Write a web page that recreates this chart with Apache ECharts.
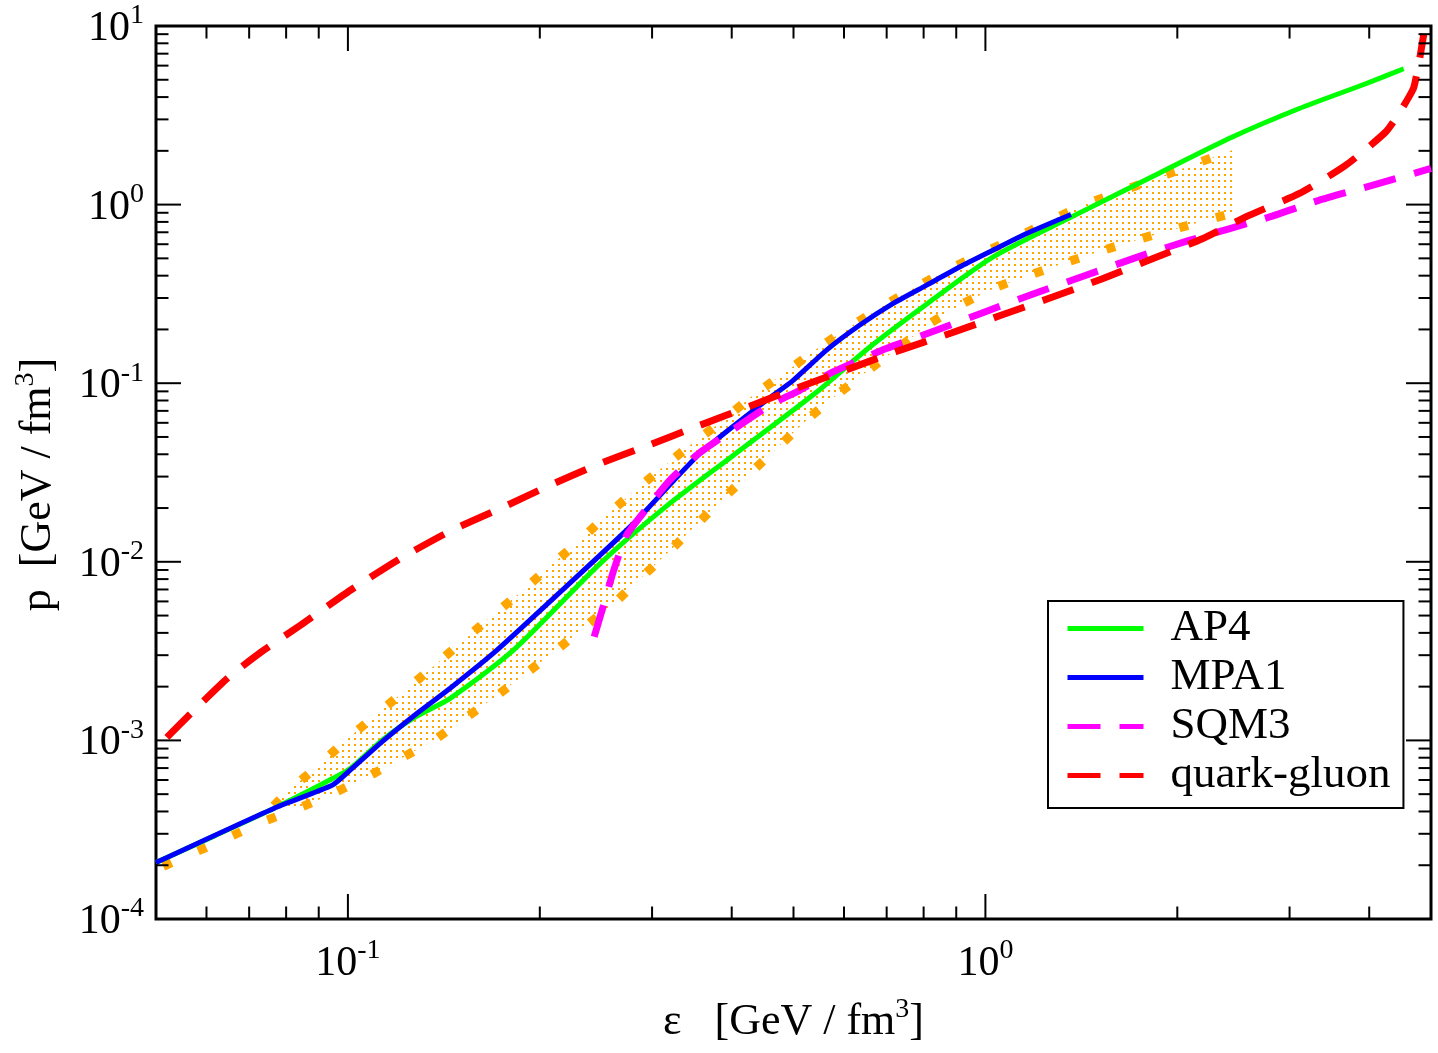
<!DOCTYPE html>
<html><head><meta charset="utf-8">
<script src="https://cdn.jsdelivr.net/npm/echarts@6/dist/echarts.min.js"></script>
<style>html,body{margin:0;padding:0;background:#fff;}#c{width:1438px;height:1053px;}</style>
</head><body><div id="c"></div>
<script>
// ---------- data (energy density eps [GeV/fm^3], pressure p [GeV/fm^3]) ----------
const ap4 = [
  [0.05, 2.07e-4], [0.062, 2.94e-4], [0.0765, 4.16e-4], [0.0843, 4.94e-4], [0.0946, 6.12e-4],
  [0.1009, 6.97e-4], [0.1138, 1.02e-3], [0.1284, 1.37e-3], [0.1447, 1.72e-3], [0.1818, 3.2e-3],
  [0.2486, 9.77e-3], [0.316, 0.0205], [0.4017, 0.0393], [0.54, 0.0875],
  [0.658, 0.159], [0.8075, 0.276], [1.027, 0.508], [1.37, 0.859], [1.873, 1.50],
  [2.44, 2.39], [3.10, 3.44], [3.95, 4.75], [4.53, 5.76]
];
const mpa1 = [
  [0.05, 2.07e-4], [0.0765, 4.16e-4], [0.0946, 5.62e-4], [0.1009, 6.83e-4], [0.1138, 1.0e-3],
  [0.1284, 1.42e-3], [0.1447, 1.96e-3], [0.1713, 3.2e-3], [0.2191, 7.17e-3], [0.2804, 0.01636],
  [0.3566, 0.0404], [0.4534, 0.0802], [0.4994, 0.1038], [0.5628, 0.1528], [0.6346, 0.211],
  [0.7157, 0.279], [0.8075, 0.353], [0.9106, 0.447], [1.027, 0.555], [1.158, 0.687], [1.362, 0.881]
];
const sqm3 = [
  [0.2434, 3.8e-3], [0.2515, 5.64e-3], [0.2612, 8.97e-3], [0.2737, 0.01409], [0.2942, 0.01986],
  [0.3197, 0.0286], [0.3523, 0.0395], [0.3902, 0.0511], [0.4589, 0.0752], [0.5113, 0.0912],
  [0.5767, 0.1156], [0.699, 0.1562], [0.8371, 0.1977], [1.0025, 0.2523], [1.2, 0.32],
  [1.438, 0.402], [1.722, 0.505], [2.087, 0.63], [2.785, 0.851], [3.334, 1.056],
  [4.043, 1.281], [5.0, 1.594]
];
const quarkGluon = [
  [0.052, 1.04e-3], [0.0567, 1.416e-3], [0.0651, 2.27e-3], [0.0738, 3.2e-3], [0.0843, 4.42e-3],
  [0.1009, 6.93e-3], [0.1208, 0.01043], [0.1456, 0.01503], [0.1733, 0.01986], [0.2075, 0.02684],
  [0.2486, 0.0355], [0.2977, 0.0453], [0.3566, 0.0581], [0.4269, 0.0743], [0.5113, 0.0952],
  [0.6124, 0.1207], [0.7335, 0.1528], [0.8839, 0.191], [1.058, 0.24], [1.275, 0.3036],
  [1.526, 0.3846], [1.828, 0.4977], [2.189, 0.644], [2.592, 0.87], [3.103, 1.151],
  [3.672, 1.657], [4.243, 2.546], [4.451, 3.227], [4.615, 3.997], [4.70, 4.545],
  [4.784, 6.14], [4.872, 9.04]
];
const bandUpper = [
  [0.0765, 4.3e-4], [0.0803, 5.16e-4], [0.0895, 7.12e-4], [0.0991, 9.95e-4], [0.11, 1.368e-3],
  [0.1223, 1.87e-3], [0.1359, 2.58e-3], [0.1509, 3.56e-3], [0.1676, 4.92e-3], [0.1863, 6.7e-3],
  [0.2064, 9.29e-3], [0.2291, 0.01282], [0.2539, 0.01807], [0.2814, 0.02483], [0.3122, 0.03396],
  [0.3479, 0.0462], [0.3878, 0.062], [0.432, 0.0855], [0.4844, 0.114], [0.54, 0.1528],
  [0.6066, 0.202], [0.6809, 0.2616], [0.765, 0.334], [0.866, 0.4246], [0.9786, 0.5263],
  [1.11, 0.644], [1.252, 0.798], [1.42, 0.99], [1.621, 1.175], [1.846, 1.396],
  [2.1, 1.657], [2.397, 1.967], [2.472, 2.063]
];
const bandLower = [
  [0.05, 1.89e-4], [0.057, 2.325e-4], [0.0648, 2.85e-4], [0.0735, 3.5e-4], [0.0836, 4.16e-4],
  [0.0948, 5.05e-4], [0.1074, 6.25e-4], [0.1211, 7.93e-4], [0.1366, 1.004e-3], [0.1709, 1.77e-3],
  [0.2138, 3.27e-3], [0.264, 6.04e-3], [0.3225, 0.01187], [0.3925, 0.0236], [0.4804, 0.0462],
  [0.5305, 0.0647], [0.5907, 0.0885], [0.658, 0.1197], [0.7335, 0.1594], [0.8173, 0.2156],
  [0.9215, 0.279], [1.0455, 0.348], [1.189, 0.41], [1.354, 0.481], [1.545, 0.561],
  [1.764, 0.649], [2.018, 0.743], [2.298, 0.845], [2.472, 0.904]
];
// tick positions
const xMajorTicks = [0.1, 1];
const xMinorTicks = [0.06, 0.07, 0.08, 0.09, 0.2, 0.3, 0.4, 0.5, 0.6, 0.7, 0.8, 0.9, 2, 3, 4];
const yMajorTicks = [1e-3, 1e-2, 1e-1, 1];
const yMinorTicks = [];
[1e-4, 1e-3, 1e-2, 1e-1, 1].forEach(d => { for (let k = 2; k <= 9; k++) yMinorTicks.push(+(d * k).toPrecision(3)); });
const legendNames = ['AP4', 'MPA1', 'SQM3', 'quark-gluon'];

// ---------- chart ----------
const FONT = '"Liberation Serif", "Times New Roman", serif';
const chart = echarts.init(document.getElementById('c'), null, {renderer: 'canvas', width: 1438, height: 1053});

function powLabel(v) {
  const e = Math.log10(v), r = Math.round(e);
  if (Math.abs(e - r) > 1e-6) return '';
  return '{b|10}{s|' + r + '}';
}
const labelRich = {
  b: {fontSize: 42, fontFamily: FONT, color: '#000', lineHeight: 48, verticalAlign: 'bottom'},
  s: {fontSize: 28, fontFamily: FONT, color: '#000', lineHeight: 20, verticalAlign: 'top'}
};
const titleRich = {
  t: {fontSize: 44, fontFamily: FONT, color: '#000', lineHeight: 48, verticalAlign: 'bottom'},
  s: {fontSize: 28, fontFamily: FONT, color: '#000', lineHeight: 20, verticalAlign: 'top'}
};

// dotted fill pattern for the band
const tile = document.createElement('canvas');
tile.width = 6; tile.height = 6;
const tctx = tile.getContext('2d');
tctx.fillStyle = '#FFA500';
tctx.fillRect(0, 0, 2, 2);
const bandPattern = {image: tile, repeat: 'repeat'};

function tickSeries(values, isX, len) {
  return {
    type: 'custom', silent: true, z: 10, clip: false, animation: false,
    data: values.map(v => isX ? [v, 1] : [1, v]),
    renderItem(params, api) {
      const cs = params.coordSys;
      const p = api.coord([api.value(0), api.value(1)]);
      const st = {stroke: '#000', lineWidth: 2};
      if (isX) {
        const yb = cs.y + cs.height, yt = cs.y;
        return {type: 'group', children: [
          {type: 'line', shape: {x1: p[0], y1: yb, x2: p[0], y2: yb - len}, style: st},
          {type: 'line', shape: {x1: p[0], y1: yt, x2: p[0], y2: yt + len}, style: st}
        ]};
      }
      const xl = cs.x, xr = cs.x + cs.width;
      return {type: 'group', children: [
        {type: 'line', shape: {x1: xl, y1: p[1], x2: xl + len, y2: p[1]}, style: st},
        {type: 'line', shape: {x1: xr, y1: p[1], x2: xr - len, y2: p[1]}, style: st}
      ]};
    }
  };
}

const bandLowerForFill = bandLower.filter(p => p[0] >= bandUpper[0][0]);

const option = {
  animation: false,
  backgroundColor: '#fff',
  grid: {left: 156, top: 26, width: 1275, height: 893, show: true, borderColor: '#000', borderWidth: 3,
         backgroundColor: 'transparent', containLabel: false, outerBoundsMode: 'none'},
  legend: {
    data: legendNames, orient: 'vertical', left: 1048, top: 601,
    itemWidth: 76, itemHeight: 12, itemGap: 4,
    padding: [5, 13, 10, 17],
    borderColor: '#000', borderWidth: 2, backgroundColor: '#fff',
    itemStyle: {opacity: 0},
    lineStyle: {width: 5},
    textStyle: {fontSize: 45, fontFamily: FONT, color: '#000', padding: [0, 0, 0, 22]},
    selectedMode: false
  },
  xAxis: {
    type: 'log', logBase: 10, min: 0.05, max: 5,
    axisLine: {show: false}, axisTick: {show: false}, splitLine: {show: false},
    minorTick: {show: false}, minorSplitLine: {show: false},
    axisLabel: {formatter: powLabel, rich: labelRich, margin: 18, color: '#000'},
    name: '{t|\u03b5   [GeV / fm}{s|3}{t|]}', nameLocation: 'middle', nameGap: 77,
    nameTextStyle: {rich: titleRich}
  },
  yAxis: {
    type: 'log', logBase: 10, min: 1e-4, max: 10,
    axisLine: {show: false}, axisTick: {show: false}, splitLine: {show: false},
    minorTick: {show: false}, minorSplitLine: {show: false},
    axisLabel: {formatter: powLabel, rich: labelRich, margin: 12, color: '#000'},
    name: '{t|p  [GeV / fm}{s|3}{t|]}', nameLocation: 'middle', nameGap: 96, nameRotate: 90,
    nameTextStyle: {rich: titleRich, padding: [0, 24, 0, 0]}
  },
  series: [
    {
      name: 'band', type: 'custom', silent: true, z: 1, clip: true,
      data: [bandUpper[0]],
      renderItem(params, api) {
        const pts = bandUpper.map(p => api.coord(p))
          .concat(bandLowerForFill.slice().reverse().map(p => api.coord(p)));
        return {type: 'polygon', shape: {points: pts}, style: {fill: bandPattern, stroke: null}};
      }
    },
    {name: 'bandUpper', type: 'line', data: bandUpper, symbol: 'none', z: 2, silent: true,
     lineStyle: {color: '#FFA500', width: 9, type: [9, 29], cap: 'butt'}},
    {name: 'bandLower', type: 'line', data: bandLower, symbol: 'none', z: 2, silent: true,
     lineStyle: {color: '#FFA500', width: 9, type: [9, 29], dashOffset: 30, cap: 'butt'}},
    {name: 'AP4', type: 'line', data: ap4, symbol: 'none', smooth: 0.25, z: 3,
     lineStyle: {color: '#00FF00', width: 5}, itemStyle: {color: '#00FF00'}},
    {name: 'MPA1', type: 'line', data: mpa1, symbol: 'none', smooth: 0.2, z: 4,
     lineStyle: {color: '#0000FF', width: 5}, itemStyle: {color: '#0000FF'}},
    {name: 'SQM3', type: 'line', data: sqm3, symbol: 'none', smooth: 0.2, z: 5,
     lineStyle: {color: '#FF00FF', width: 7, type: [33, 19], cap: 'butt'}, itemStyle: {color: '#FF00FF'}},
    {name: 'quark-gluon', type: 'line', data: quarkGluon, symbol: 'none', smooth: 0.2, z: 6,
     lineStyle: {color: '#FF0000', width: 7, type: [33, 19], cap: 'butt'}, itemStyle: {color: '#FF0000'}},
    tickSeries(xMajorTicks, true, 25),
    tickSeries(xMinorTicks, true, 12.5),
    tickSeries(yMajorTicks, false, 25),
    tickSeries(yMinorTicks, false, 12.5)
  ]
};
chart.setOption(option);
</script>
</body></html>
